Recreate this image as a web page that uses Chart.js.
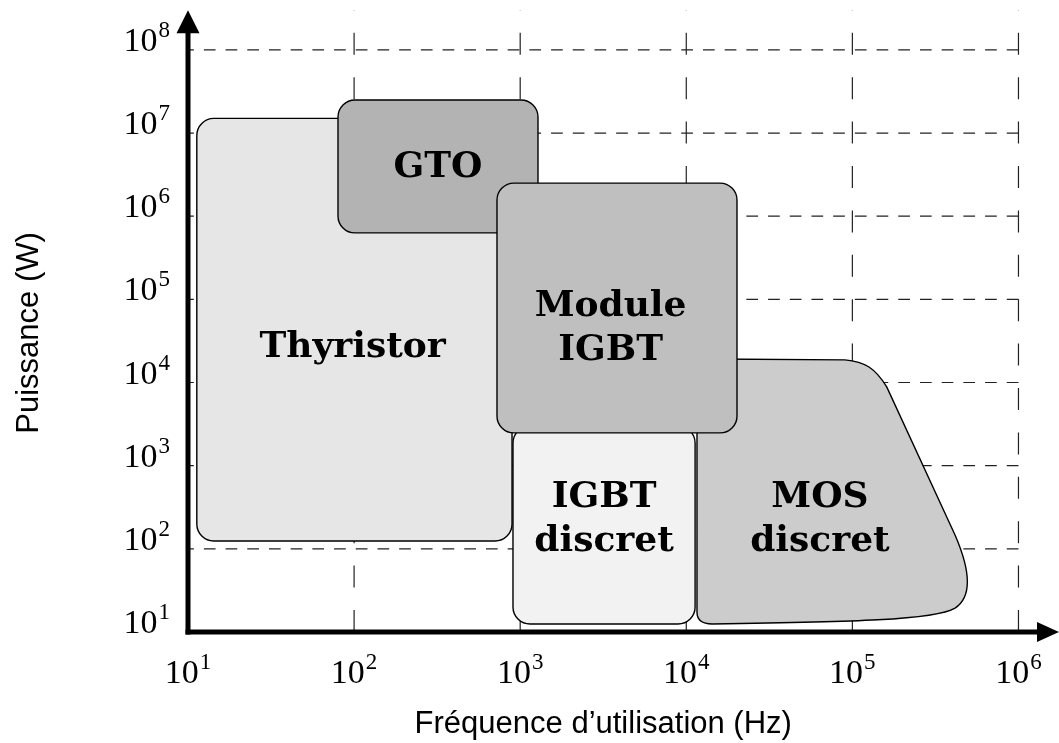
<!DOCTYPE html>
<html>
<head>
<meta charset="utf-8">
<script src="https://cdn.jsdelivr.net/npm/chart.js@4/dist/chart.umd.min.js"></script>
<style>
html,body{margin:0;padding:0;background:#fff;}
#wrap{width:1059px;height:743px;position:relative;}
</style>
</head>
<body>
<div id="wrap"><canvas id="c"></canvas></div>
<script>
// ---- Axis ticks ----
const xTickValues = [1e1, 1e2, 1e3, 1e4, 1e5, 1e6];
const xTickExponents = ['1', '2', '3', '4', '5', '6'];
const yTickValues = [1e1, 1e2, 1e3, 1e4, 1e5, 1e6, 1e7, 1e8];
const yTickExponents = ['1', '2', '3', '4', '5', '6', '7', '8'];
const xAxisTitle = 'Fréquence d’utilisation (Hz)';
const yAxisTitle = 'Puissance (W)';
const xAxisEnd = 1.754e6;   // arrow tip (Hz)
const yAxisEnd = 3.0e8;     // arrow tip (W)

// ---- Rectangular domains (Hz / W) ----
const boxLabels   = [['Thyristor'], ['GTO'], ['IGBT', 'discret'], ['Module', 'IGBT']];
const boxFreqMin  = [11.3, 80, 905, 725];
const boxFreqMax  = [893, 1280, 11300, 20200];
const boxPowerMin = [124, 6.3e5, 12.5, 2480];
const boxPowerMax = [1.5e7, 2.5e7, 3000, 2.5e6];
const boxLabelFreq  = [98, 320, 3200, 3500];
const boxLabelPower = [28700, 4.2e6, 248, 49300];
const boxColors = ['#e6e6e6', '#b3b3b3', '#f2f2f2', '#bfbfbf'];

// ---- MOS discret domain outline (Hz / W) ----
const mosLabel = ['MOS', 'discret'];
const mosFreq  = [11600, 11600, 13900, 90200, 119000, 137000, 161000, 415000, 497000, 547000, 415000, 314000, 96800, 14300, 11600, 11600];
const mosPower = [13400, 19200, 19200, 18700, 17700, 15000, 8850, 147, 64, 27.9, 19.4, 13.9, 13.2, 12.5, 12.5, 17.4];
const mosCommands = ['M', 'Q', 'L', 'C', 'L', 'C', 'C', 'Q', 'Z'];
const mosLabelFreq = 63800;
const mosLabelPower = 248;
const mosColor = '#cccccc';

// build datasets (draw order: Thyristor, GTO, IGBT discret, MOS discret, Module IGBT)
function boxDataset(i) {
  return {
    label: boxLabels[i].join(' '),
    kind: 'box',
    fill: boxColors[i],
    textLines: boxLabels[i],
    labelPoint: {x: boxLabelFreq[i], y: boxLabelPower[i]},
    data: [{x: boxFreqMin[i], y: boxPowerMin[i]}, {x: boxFreqMax[i], y: boxPowerMax[i]}],
    pointRadius: 0, showLine: false
  };
}
const mosDataset = {
  label: mosLabel.join(' '),
  kind: 'path',
  fill: mosColor,
  textLines: mosLabel,
  commands: mosCommands,
  labelPoint: {x: mosLabelFreq, y: mosLabelPower},
  data: mosFreq.map((f, i) => ({x: f, y: mosPower[i]})),
  pointRadius: 0, showLine: false
};
const datasets = [boxDataset(0), boxDataset(1), boxDataset(2), mosDataset, boxDataset(3)];

const CORNER = 17;

function roundRectPath(ctx, x0, y0, x1, y1, r) {
  const l = Math.min(x0, x1), rgt = Math.max(x0, x1), t = Math.min(y0, y1), b = Math.max(y0, y1);
  ctx.beginPath();
  ctx.moveTo(l + r, t);
  ctx.lineTo(rgt - r, t);
  ctx.arcTo(rgt, t, rgt, t + r, r);
  ctx.lineTo(rgt, b - r);
  ctx.arcTo(rgt, b, rgt - r, b, r);
  ctx.lineTo(l + r, b);
  ctx.arcTo(l, b, l, b - r, r);
  ctx.lineTo(l, t + r);
  ctx.arcTo(l, t, l + r, t, r);
  ctx.closePath();
}

const domainPlugin = {
  id: 'domains',
  beforeDatasetsDraw(chart) {
    const {ctx, scales: {x, y}} = chart;
    const X = v => x.getPixelForValue(v);
    const Y = v => y.getPixelForValue(v);
    ctx.save();
    // dashed grid
    ctx.strokeStyle = '#222';
    ctx.lineWidth = 1.2;
    ctx.setLineDash([22, 22.4]);
    xTickValues.slice(1).forEach(v => {
      ctx.beginPath();
      ctx.moveTo(X(v), Y(yTickValues[0]));
      ctx.lineTo(X(v), Y(yAxisEnd));
      ctx.stroke();
    });
    ctx.setLineDash([11.7, 10]);
    yTickValues.slice(1).forEach(v => {
      ctx.beginPath();
      ctx.moveTo(X(xTickValues[xTickValues.length - 1]), Y(v));
      ctx.lineTo(X(xTickValues[0]), Y(v));
      ctx.stroke();
    });
    ctx.setLineDash([]);

    // domains
    chart.data.datasets.forEach(ds => {
      const pts = ds.data.map(p => [X(p.x), Y(p.y)]);
      if (ds.kind === 'box') {
        roundRectPath(ctx, pts[0][0], pts[0][1], pts[1][0], pts[1][1], CORNER);
      } else {
        ctx.beginPath();
        let k = 0;
        ds.commands.forEach(c => {
          if (c === 'M') { ctx.moveTo(...pts[k]); k += 1; }
          else if (c === 'L') { ctx.lineTo(...pts[k]); k += 1; }
          else if (c === 'Q') { ctx.quadraticCurveTo(...pts[k], ...pts[k + 1]); k += 2; }
          else if (c === 'C') { ctx.bezierCurveTo(...pts[k], ...pts[k + 1], ...pts[k + 2]); k += 3; }
          else if (c === 'Z') { ctx.closePath(); }
        });
      }
      ctx.fillStyle = ds.fill;
      ctx.fill();
      ctx.strokeStyle = '#000';
      ctx.lineWidth = 1.4;
      ctx.stroke();

      // label
      ctx.fillStyle = '#000';
      ctx.font = 'bold 36px "DejaVu Serif"';
      ctx.textAlign = 'center';
      ctx.textBaseline = 'alphabetic';
      const cx = X(ds.labelPoint.x), cy = Y(ds.labelPoint.y);
      const capH = 26, gap = 44;
      const n = ds.textLines.length;
      ds.textLines.forEach((line, i) => {
        const base = cy + capH / 2 + (i - (n - 1) / 2) * gap;
        ctx.fillText(line, cx, base);
      });
    });
    ctx.restore();
  },
  afterDatasetsDraw(chart) {
    const {ctx, scales: {x, y}} = chart;
    const X = v => x.getPixelForValue(v);
    const Y = v => y.getPixelForValue(v);
    ctx.save();
    const ox = X(xTickValues[0]), oy = Y(yTickValues[0]);
    // axes
    ctx.strokeStyle = '#000';
    ctx.fillStyle = '#000';
    ctx.lineWidth = 5;
    ctx.beginPath();
    ctx.moveTo(ox, oy + 2.5);
    ctx.lineTo(ox, Y(yAxisEnd) + 20);
    ctx.stroke();
    ctx.beginPath();
    ctx.moveTo(ox - 2.5, oy);
    ctx.lineTo(X(xAxisEnd) - 19, oy);
    ctx.stroke();
    // arrow heads
    const ty = Y(yAxisEnd);
    ctx.beginPath();
    ctx.moveTo(ox, ty);
    ctx.lineTo(ox - 11.5, ty + 23);
    ctx.lineTo(ox + 11.5, ty + 23);
    ctx.closePath();
    ctx.fill();
    const tx = X(xAxisEnd);
    ctx.beginPath();
    ctx.moveTo(tx, oy);
    ctx.lineTo(tx - 22, oy - 10);
    ctx.lineTo(tx - 22, oy + 10);
    ctx.closePath();
    ctx.fill();

    // tick labels
    const mainFont = '34px "Liberation Serif"', supFont = '23px "Liberation Serif"';
    ctx.textBaseline = 'alphabetic';
    ctx.textAlign = 'left';
    xTickValues.forEach((v, i) => {
      ctx.font = mainFont;
      const w1 = ctx.measureText('10').width;
      ctx.font = supFont;
      const w2 = ctx.measureText(xTickExponents[i]).width;
      const start = X(v) - (w1 + 1 + w2) / 2;
      const base = oy + 51;
      ctx.font = mainFont;
      ctx.fillText('10', start, base);
      ctx.font = supFont;
      ctx.fillText(xTickExponents[i], start + w1 + 1, base - 14);
    });
    yTickValues.forEach((v, i) => {
      ctx.font = supFont;
      const w2 = ctx.measureText(yTickExponents[i]).width;
      ctx.font = mainFont;
      const w1 = ctx.measureText('10').width;
      const right = ox - 18;
      const base = Y(v) + 1;
      ctx.fillText('10', right - w2 - 1 - w1, base);
      ctx.font = supFont;
      ctx.fillText(yTickExponents[i], right - w2, base - 14);
    });

    // axis titles
    ctx.font = '31px "Liberation Sans"';
    ctx.textAlign = 'center';
    ctx.fillText(xAxisTitle, (X(xTickValues[0]) + X(xTickValues[xTickValues.length - 1])) / 2, oy + 101);
    ctx.save();
    ctx.translate(38, (Y(yTickValues[0]) + Y(yTickValues[yTickValues.length - 1])) / 2 - 8);
    ctx.rotate(-Math.PI / 2);
    ctx.fillText(yAxisTitle, 0, 0);
    ctx.restore();
    ctx.restore();
  }
};

new Chart(document.getElementById('c'), {
  type: 'scatter',
  data: {datasets},
  options: {
    responsive: true,
    maintainAspectRatio: false,
    animation: false,
    layout: {padding: {left: 188, right: 0, top: 0, bottom: 111}},
    plugins: {legend: {display: false}, tooltip: {enabled: false}},
    scales: {
      x: {type: 'logarithmic', min: 10, max: xAxisEnd, display: false},
      y: {type: 'logarithmic', min: 10, max: 3.98e8, display: false}
    }
  },
  plugins: [domainPlugin]
});
</script>
</body>
</html>
